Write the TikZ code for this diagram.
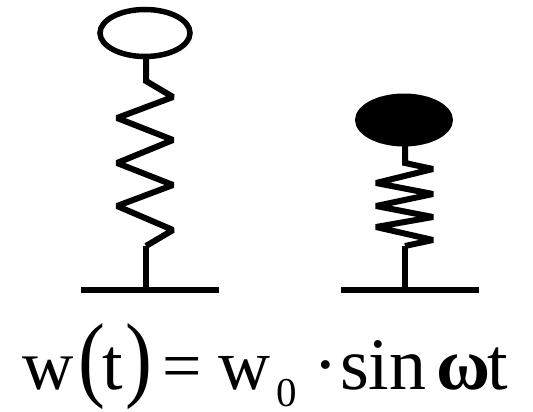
\documentclass[tikz,border=0pt]{standalone}
\usepackage{fontspec}
\usepackage{graphicx}
\setmainfont{Liberation Serif}
\newcommand{\fs}[1]{\fontsize{#1}{#1}\selectfont}
\tikzset{
  x=1pt,y=-1pt,
  wire/.style={line width=6pt,line join=miter,miter limit=2,line cap=butt,black},
  base/.style={line width=6pt,black},
  frm/.style={inner sep=0pt,outer sep=0pt,anchor=base west,text=black},
}
\begin{document}
\begin{tikzpicture}
\useasboundingbox (0,0) rectangle (533,412);
% left spring
\draw[wire] (146,57) -- (146,81) -- (173,97) -- (117,118) -- (173,140) -- (117,163) -- (173,185) -- (117,206) -- (173,230) -- (146,246);
\draw[wire] (146,246) -- (146,288);
\draw[wire,line width=5.5pt] (145,33) ellipse [x radius=45,y radius=23.5];
\draw[base] (81,290) -- (219,290);
% right spring
\draw[wire] (405,146) -- (405,163) -- (433,169) -- (376,183) -- (433,194) -- (376,206) -- (433,217) -- (376,227) -- (433,240) -- (405,246);
\draw[wire] (405,246) -- (405,288);
\fill[black] (404,120) ellipse [x radius=49,y radius=26.5];
\draw[base] (341,290) -- (479,290);
% formula
\node[frm] (w1) at (22,389) {\fs{71}w};
\node[frm] (lp) at (78,389) {\fs{95}\makebox[23pt][l]{\scalebox{0.85}[1]{(}}};
\node[frm] (t1) at (102,389) {\fs{74}t};
\node[frm] (rp) at (125,389) {\fs{95}\scalebox{0.85}[1]{)}};
\node[frm] (eq) at (162,389) {\fs{70}=};
\node[frm] (w2) at (218,389) {\fs{72}w};
\node[frm] (sub) at (276,406) {\fs{41}0};
\node[frm] (dot) at (313,389) {\fs{74}·};
\node[frm] (sn) at (340,389) {\fs{74}sin};
\node[frm] (om) at (436,389) {\fs{74}\bfseries ω};
\node[frm] (t2) at (487,389) {\fs{74}t};
\end{tikzpicture}
\end{document}
